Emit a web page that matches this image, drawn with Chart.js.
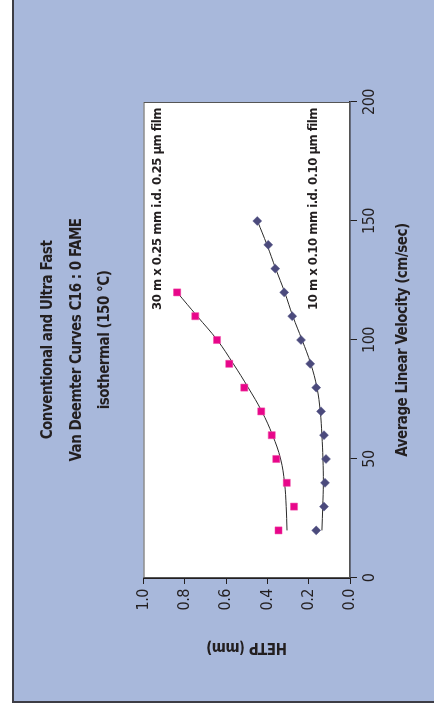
<!DOCTYPE html>
<html>
<head>
<meta charset="utf-8">
<script src="https://cdn.jsdelivr.net/npm/chart.js@4/dist/chart.umd.min.js"></script>
<style>
    html, body { margin: 0; padding: 0; background: #ffffff; }
    body { width: 434px; height: 712px; overflow: hidden; position: relative; }
    /* the figure is laid out landscape and turned a quarter turn to stand on its side */
    #sheet {
        position: absolute; left: 0; top: 0;
        width: 712px; height: 434px;
        transform-origin: 0 0;
        transform: translate(0, 712px) rotate(-90deg);
    }
    #panel {
        position: absolute; left: 9px; top: 12px;
        width: 703px; height: 422px;
        box-sizing: border-box;
        background: #a8b8db;
        border-left: 2px solid #3d3d45;
        border-top: 2px solid #3d3d45;
    }
    #vanDeemterChart { position: absolute; left: 0; top: 0; }
</style>
</head>
<body>
<div id="sheet">
    <div id="panel"></div>
    <canvas id="vanDeemterChart" width="712" height="434"></canvas>
</div>
<script>
const FONT = "'Liberation Sans Narrow', 'DejaVu Sans Condensed', 'Roboto Condensed', sans-serif";
const INK = '#231f20';

const titleLines = ['Conventional and Ultra Fast', 'Van Deemter Curves C16 : 0 FAME', 'isothermal (150 °C)'];
const columnNames = ['30 m x 0.25 mm i.d. 0.25 μm film', '10 m x 0.10 mm i.d. 0.10 μm film'];

// 30 m x 0.25 mm column, measured points
const velocityWide = [20, 30, 40, 50, 60, 70, 80, 90, 100, 110, 120];
const hetpWide = [0.346, 0.271, 0.306, 0.357, 0.379, 0.430, 0.512, 0.585, 0.644, 0.749, 0.837];
// and its fitted curve
const fitVelocityWide = [20, 30, 40, 50, 60, 70, 80, 90, 100, 110, 120];
const fitHetpWide = [0.305, 0.309, 0.317, 0.336, 0.375, 0.427, 0.493, 0.565, 0.643, 0.740, 0.837];

// 10 m x 0.10 mm column, measured points
const velocityNarrow = [20, 30, 40, 50, 60, 70, 80, 90, 100, 110, 120, 130, 140, 150];
const hetpNarrow = [0.164, 0.126, 0.121, 0.116, 0.126, 0.140, 0.164, 0.193, 0.237, 0.280, 0.319, 0.362, 0.396, 0.449];
// and its fitted curve
const fitVelocityNarrow = [20, 30, 40, 50, 60, 70, 80, 90, 100, 110, 120, 130, 140, 150];
const fitHetpNarrow = [0.136, 0.132, 0.129, 0.131, 0.136, 0.144, 0.160, 0.190, 0.232, 0.277, 0.316, 0.360, 0.402, 0.448];

const velocityRange = [0, 200];
const velocityStep = 50;
const hetpRange = [0, 1];
const hetpStep = 0.1;

function toPoints(xs, ys) {
    return xs.map((x, i) => ({ x: x, y: ys[i] }));
}

// pull the letters a little closer, the fallback face is wider than a true narrow one
const tightText = {
    id: 'tightText',
    beforeLayout: (chart) => { chart.ctx.letterSpacing = '-0.5px'; },
    beforeDraw: (chart) => { chart.ctx.letterSpacing = '-0.5px'; }
};

// white plot box with a thin frame
const plotBox = {
    id: 'plotBox',
    beforeDraw: (chart) => {
        let a = chart.chartArea;
        let ctx = chart.ctx;
        ctx.save();
        ctx.fillStyle = '#ffffff';
        ctx.fillRect(a.left, a.top, a.right - a.left, a.bottom - a.top);
        ctx.restore();
    },
    beforeDatasetsDraw: (chart) => {
        let a = chart.chartArea;
        let ctx = chart.ctx;
        ctx.save();
        ctx.strokeStyle = '#555555';
        ctx.lineWidth = 1;
        ctx.strokeRect(a.left + 0.5, a.top + 0.5, a.right - a.left - 1, a.bottom - a.top - 1);
        ctx.restore();
    }
};

// column names written inside the plot, right aligned near the top of the velocity range
const columnLabels = {
    id: 'columnLabels',
    afterDatasetsDraw: (chart) => {
        let ctx = chart.ctx;
        let xs = chart.scales.x;
        let ys = chart.scales.y;
        let anchors = [0.932, 0.178];
        ctx.save();
        ctx.font = `bold 13px ${FONT}`;
        ctx.fillStyle = INK;
        ctx.textAlign = 'right';
        ctx.textBaseline = 'middle';
        columnNames.forEach((name, i) => {
            ctx.fillText(name, xs.getPixelForValue(197.5), ys.getPixelForValue(anchors[i]));
        });
        ctx.restore();
    }
};

function renderChart() {
    let ctx = document.getElementById('vanDeemterChart').getContext('2d');
    new Chart(ctx, {
        type: 'scatter',
        data: {
            datasets: [
                {
                    label: columnNames[0],
                    data: toPoints(velocityWide, hetpWide),
                    pointStyle: 'rect',
                    pointRadius: 5,
                    backgroundColor: '#e8068a',
                    borderColor: '#ee4aa5',
                    borderWidth: 0.5
                },
                {
                    label: columnNames[1],
                    data: toPoints(velocityNarrow, hetpNarrow),
                    pointStyle: 'rectRot',
                    pointRadius: 4.5,
                    backgroundColor: '#4b4a7c',
                    borderColor: '#5d5c8c',
                    borderWidth: 0.5
                },
                {
                    label: 'fit 30 m',
                    data: toPoints(fitVelocityWide, fitHetpWide),
                    showLine: true,
                    pointRadius: 0,
                    borderColor: '#2a2a2a',
                    borderWidth: 1,
                    tension: 0.4
                },
                {
                    label: 'fit 10 m',
                    data: toPoints(fitVelocityNarrow, fitHetpNarrow),
                    showLine: true,
                    pointRadius: 0,
                    borderColor: '#2a2a2a',
                    borderWidth: 1,
                    tension: 0.4
                }
            ]
        },
        options: {
            responsive: false,
            animation: false,
            layout: {
                padding: { left: 0, right: 102, top: 0, bottom: 0 }
            },
            scales: {
                x: {
                    type: 'linear',
                    min: velocityRange[0],
                    max: velocityRange[1],
                    afterFit: (scale) => { scale.height = 84; },
                    ticks: {
                        stepSize: velocityStep,
                        color: INK,
                        padding: 3,
                        font: { family: FONT, size: 16 }
                    },
                    grid: {
                        drawOnChartArea: false,
                        tickLength: 7,
                        color: INK,
                        lineWidth: 1
                    },
                    border: { color: INK, width: 1.5 },
                    title: {
                        display: true,
                        text: 'Average Linear Velocity (cm/sec)',
                        color: INK,
                        font: { family: FONT, size: 15, weight: 'bold' },
                        padding: { top: 0, bottom: 22 }
                    }
                },
                y: {
                    type: 'linear',
                    min: hetpRange[0],
                    max: hetpRange[1],
                    afterFit: (scale) => { scale.width = 134; },
                    ticks: {
                        stepSize: hetpStep,
                        color: INK,
                        padding: 5,
                        font: { family: FONT, size: 16 },
                        callback: (value) => value.toFixed(1)
                    },
                    grid: {
                        drawOnChartArea: false,
                        tickLength: 6,
                        color: INK,
                        lineWidth: 1
                    },
                    border: { color: INK, width: 1.5 },
                    title: {
                        display: true,
                        text: 'HETP (mm)',
                        color: INK,
                        font: { family: FONT, size: 15, weight: 'bold' },
                        padding: { top: 56, bottom: 0 }
                    }
                }
            },
            plugins: {
                legend: { display: false },
                tooltip: { enabled: false },
                title: {
                    display: true,
                    fullSize: false,
                    text: titleLines,
                    color: INK,
                    font: { family: FONT, size: 15, weight: 'bold', lineHeight: 1.9 },
                    padding: { top: 34, bottom: 24 }
                }
            }
        },
        plugins: [tightText, plotBox, columnLabels]
    });
}

renderChart();
</script>
</body>
</html>
